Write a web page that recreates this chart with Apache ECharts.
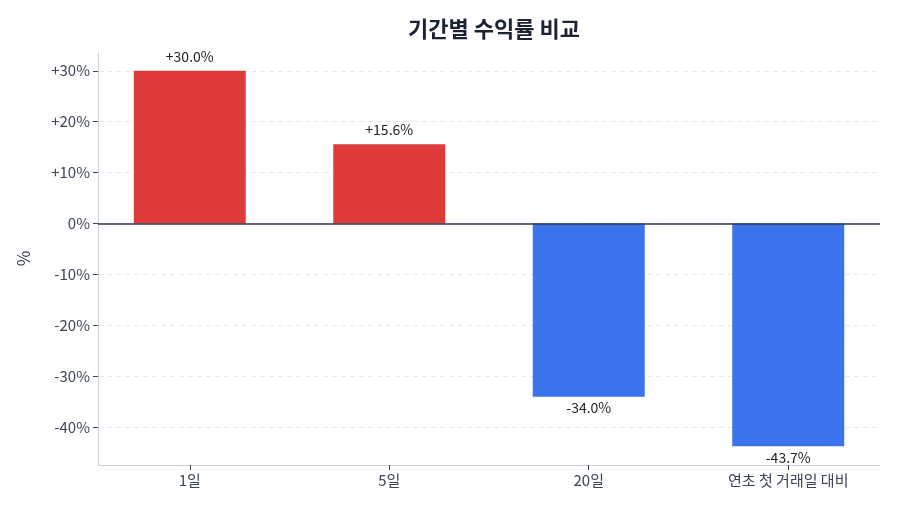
<!DOCTYPE html>
<html>
<head>
<meta charset="utf-8">
<script src="https://cdn.jsdelivr.net/npm/echarts@6/dist/echarts.min.js"></script>
<style>
  html, body { margin: 0; padding: 0; background: #fff; }
  #chart { width: 900px; height: 514px; }
</style>
</head>
<body>
<div id="chart"></div>
<script>
// data
var periods = ['1일', '5일', '20일', '연초 첫 거래일 대비'];
var returns = [30.0, 15.6, -34.0, -43.7];
var yTicks = [-40, -30, -20, -10, 0, 10, 20, 30];

var font = '"Noto Sans CJK KR", "Noto Sans", sans-serif';

function createViz() {
    var myChart = echarts.init(document.getElementById('chart'));

    var barData = returns.map(function(v, i) {
        return {
            value: [i, v],
            itemStyle: { color: v >= 0 ? '#e03b3b' : '#3b73ec' },
            label: {
                position: v >= 0 ? 'top' : 'bottom',
                distance: v >= 0 ? 7 : 4
            }
        };
    });

    var option = {
        backgroundColor: '#fff',
        animation: false,
        textStyle: { fontFamily: font },
        title: {
            text: '기간별 수익률 비교',
            left: 489,
            textAlign: 'center',
            top: 13,
            textStyle: { fontSize: 22, fontWeight: 'bold', color: '#1a2233', fontFamily: font }
        },
        grid: { left: 98, right: 20, top: 52, bottom: 49 },
        xAxis: {
            type: 'value',
            min: -0.46,
            max: 3.46,
            splitLine: { show: false },
            axisLine: { show: true, onZero: false, lineStyle: { color: '#cbd2dc', width: 1 } },
            axisTick: { show: true, inside: false, length: 5, lineStyle: { color: '#3a4556' }, customValues: [0, 1, 2, 3] },
            axisLabel: {
                customValues: [0, 1, 2, 3],
                formatter: function(v) { return periods[Math.round(v)]; },
                fontSize: 15, color: '#3a4556', margin: 8, fontFamily: font
            }
        },
        yAxis: {
            type: 'value',
            min: -47.385,
            max: 33.685,
            name: '%',
            nameLocation: 'middle',
            nameGap: 66,
            nameRotate: 90,
            nameTextStyle: { fontSize: 17, color: '#3a4556', fontFamily: font },
            axisLine: { show: true, onZero: false, lineStyle: { color: '#cbd2dc', width: 1 } },
            axisTick: { show: true, inside: false, length: 5, lineStyle: { color: '#3a4556' }, customValues: yTicks },
            axisLabel: {
                customValues: yTicks,
                formatter: function(v) { return (v > 0 ? '+' : '') + v + '%'; },
                fontSize: 15, color: '#3a4556', margin: 8, fontFamily: font
            },
            splitLine: { show: true, lineStyle: { color: '#e5e8ee', type: [5, 4], width: 1 } }
        },
        series: [
            {
                type: 'bar',
                barWidth: 112,
                data: barData,
                label: {
                    show: true,
                    fontSize: 14,
                    color: '#222',
                    fontFamily: font,
                    formatter: function(p) {
                        var v = p.value[1];
                        return (v > 0 ? '+' : '') + v.toFixed(1) + '%';
                    }
                },
                markLine: {
                    silent: true,
                    symbol: 'none',
                    label: { show: false },
                    lineStyle: { color: '#2d3748', width: 1.5, type: 'solid' },
                    data: [{ yAxis: 0 }]
                }
            }
        ]
    };

    myChart.setOption(option);
}

createViz();
</script>
</body>
</html>
